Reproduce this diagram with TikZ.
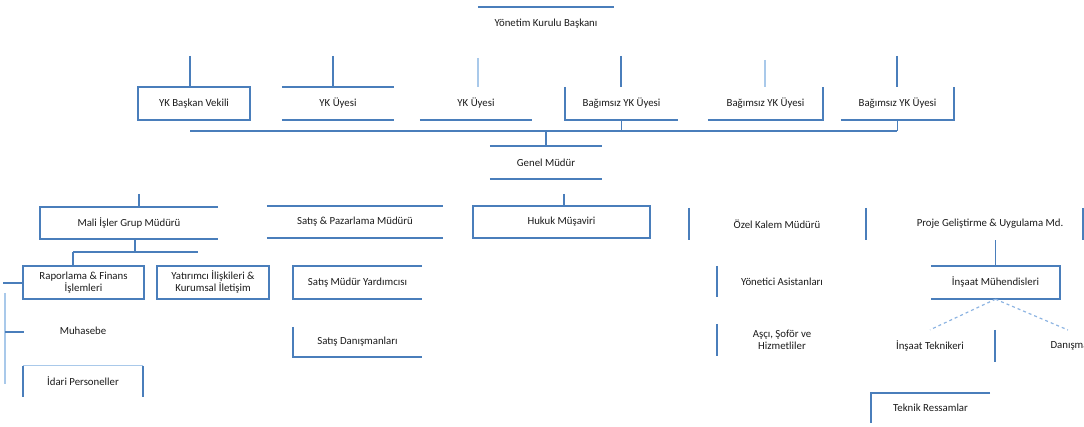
\documentclass[tikz,border=0pt]{standalone}
\usepackage{fontspec}
\setmainfont{Carlito}
\usetikzlibrary{calc}
\definecolor{lineblue}{HTML}{4A7EBB}
\definecolor{faintblue}{HTML}{A9C9EA}
\definecolor{dashblue}{HTML}{8DB4E2}
\definecolor{txtc}{HTML}{1A1A1A}
\begin{document}
\begin{tikzpicture}[x=1pt,y=-1pt,
  bl/.style={draw=lineblue,line width=1.8pt},
  con/.style={draw=lineblue,line width=1.3pt},
  fcon/.style={draw=faintblue,line width=1.3pt},
  dashline/.style={draw=dashblue,line width=1.2pt,dashed},
  txt/.style={font=\fontsize{10.8}{12}\selectfont,text=txtc,align=center},
  bx/.style={txt,inner sep=0pt,minimum width=#1},
  bx/.default=110pt]
\useasboundingbox (0,0) rectangle (1084,427);
% top
\node[bx=136pt,minimum height=34pt] (ykb) at (546,24) {Yönetim Kurulu Başkanı};
\draw[bl] (ykb.north west) -- (ykb.north east);
% row 2
\node[bx=112pt,minimum height=33pt] (yk1) at (194,103.5) {YK Başkan Vekili};
\node[bx=112pt,minimum height=33pt] (yk2) at (338,103.5) {YK Üyesi};
\node[bx=112pt,minimum height=33pt] (yk3) at (476,103.5) {YK Üyesi};
\node[bx=113pt,minimum height=33pt] (yk4) at (621.5,103.5) {Bağımsız YK Üyesi};
\node[bx=115pt,minimum height=33pt] (yk5) at (765.5,103.5) {Bağımsız YK Üyesi};
\node[bx=113pt,minimum height=33pt] (yk6) at (897.5,103.5) {Bağımsız YK Üyesi};
\draw[bl] (yk1.north west) rectangle (yk1.south east);
\draw[bl] (yk2.north west) -- (yk2.north east) (yk2.south west) -- (yk2.south east);
\draw[bl] (yk3.south west) -- (yk3.south east);
\draw[bl] (yk4.north west) -- (yk4.south west) -- (yk4.south east);
\draw[bl] (yk5.south west) -- (yk5.south east) -- (yk5.north east);
\draw[bl] (yk6.south west) -- (yk6.south east) -- (yk6.north east);
\coordinate (t1) at (190,56);
\coordinate (t2) at (333,56);
\coordinate (t3) at (478,58);
\coordinate (t4) at (621,56);
\coordinate (t5) at (765,60);
\coordinate (t6) at (897,56);
\draw[con] (t1) -- (t1 |- yk1.north);
\draw[con] (t2) -- (t2 |- yk2.north);
\draw[fcon] (t3) -- (t3 |- yk3.north);
\draw[con] (t4) -- (t4 |- yk4.north);
\draw[fcon] (t5) -- (t5 |- yk5.north);
\draw[con] (t6) -- (t6 |- yk6.north);
% bus
\coordinate (busl) at (190,131);
\coordinate (busr) at (897,131);
\draw[con] (busl) -- (busr);
\draw[con] (yk4.south) -- (yk4.south |- busl);
\draw[con] (yk6.south) -- (yk6.south |- busl);
% genel mudur
\node[bx=112pt,minimum height=33pt] (gm) at (546,162.5) {Genel Müdür};
\draw[bl] (gm.north west) -- (gm.north east) (gm.south west) -- (gm.south east);
\draw[con] (gm.north |- busl) -- (gm.north);
% level 3
\node[bx=177pt,minimum height=32pt] (hm) at (561.5,222) {Hukuk Müşaviri};
\draw[bl] (hm.north west) rectangle (hm.south east);
\coordinate (hmt) at (564,194);
\draw[con] (hmt) -- (hmt |- hm.north);
\node[bx=178pt,minimum height=32pt] (mali) at (129,223) {Mali İşler Grup Müdürü};
\draw[bl] (mali.north east) -- (mali.north west) -- (mali.south west) -- (mali.south east);
\coordinate (malit) at (139,194);
\draw[con] (malit) -- (malit |- mali.north);
\node[bx=176pt,minimum height=32pt] (satis) at (355,222) {Satış \& Pazarlama Müdürü};
\draw[bl] (satis.north west) -- (satis.north east) (satis.south west) -- (satis.south east);
\node[bx=176pt,minimum height=32pt] (ozel) at (777,224) {Özel Kalem Müdürü};
\draw[bl] (ozel.north west) -- (ozel.south west);
\node[bx=217pt,minimum height=32pt] (proje) at (974.5,224) {};
\node[txt] (projet) at (990,224) {Proje Geliştirme \& Uygulama Md.};
\draw[bl] (proje.north west) -- (proje.south west) (proje.north east) -- (proje.south east);
% level 4 left
\node[bx=121pt,minimum height=33pt] (raf) at (83.5,282.5) {Raporlama \& Finans\\İşlemleri};
\node[bx=112pt,minimum height=33pt] (yat) at (213,282.5) {Yatırımcı İlişkileri \&\\Kurumsal İletişim};
\draw[bl] (raf.north west) rectangle (raf.south east);
\draw[bl] (yat.north west) rectangle (yat.south east);
\coordinate (malib) at (135,239);
\coordinate (busa) at (73,252);
\coordinate (busb) at (198,252);
\draw[con] (malib) -- (malib |- busa);
\draw[con] (busa) -- (busb);
\draw[con] (busa) -- (busa |- raf.north);
\coordinate (stemt) at (5,293);
\coordinate (stemb) at (5,384);
\coordinate (stemh) at (3,283);
\draw[fcon] (stemt) -- (stemb);
\draw[con] (stemh) -- (stemh -| raf.west);
\node[txt] (muh) at (83,331) {Muhasebe};
\coordinate (muhh) at (5,332);
\draw[con] (muhh) -- (24,332);
\node[bx=120pt,minimum height=31pt] (idari) at (83,381.5) {İdari Personeller};
\draw[fcon] (idari.north west) -- (idari.north east);
\draw[bl] (idari.north west) -- (idari.south west) (idari.north east) -- (idari.south east);
% level 4 middle
\node[bx=129pt,minimum height=33pt] (smy) at (357.5,282.5) {Satış Müdür Yardımcısı};
\draw[bl] (smy.north east) -- (smy.north west) -- (smy.south west) -- (smy.south east);
\node[bx=129pt,minimum height=30pt] (sd) at (357.5,342) {Satış Danışmanları};
\draw[bl] (sd.north west) -- (sd.south west) -- (sd.south east);
% level 4 right
\node[bx=130pt,minimum height=31pt] (ya) at (782,281.5) {Yönetici Asistanları};
\draw[bl] (ya.north west) -- (ya.south west);
\node[bx=130pt,minimum height=32pt] (asci) at (782,340) {Aşçı, Şoför ve\\Hizmetliler};
\draw[bl] (asci.north west) -- (asci.south west);
\node[bx=129pt,minimum height=33pt] (ins) at (995.5,282.5) {İnşaat Mühendisleri};
\draw[bl] (ins.north west) -- (ins.north east) -- (ins.south east) -- (ins.south west);
\draw[con] (ins.north |- proje.south) -- (ins.north);
\node[bx=130pt,minimum height=32pt] (it) at (930,346) {İnşaat Teknikeri};
\draw[bl] (it.north east) -- (it.south east);
\node[txt,anchor=west] (dan) at (1047,346) {Danışmanlar};
\coordinate (dant) at (1068,330);
\draw[dashline] (ins.south) -- (it.north);
\draw[dashline] (ins.south) -- (dant);
\node[bx=119pt,minimum height=30pt] (tr) at (930.5,408) {Teknik Ressamlar};
\draw[bl] (tr.north east) -- (tr.north west) -- (tr.south west);
\end{tikzpicture}
\end{document}
